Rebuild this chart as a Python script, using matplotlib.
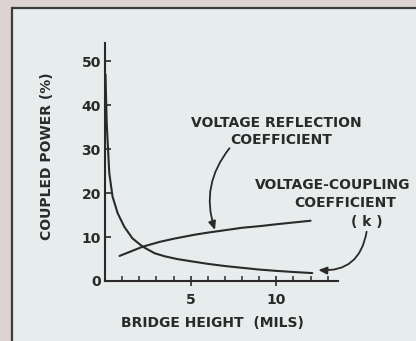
import matplotlib
matplotlib.use("Agg")
import matplotlib.pyplot as plt
from matplotlib.patches import Rectangle

# coupling coefficient (k) vs bridge height
k_height = [0.03, 0.06, 0.1, 0.15, 0.25, 0.44, 0.74, 1.13, 1.6, 2.2, 2.9,
            3.5, 4.2, 5.0, 6.0, 7.0, 8.0, 9.0, 10.0, 11.0, 12.1]
k_power = [47, 42, 36, 32, 24.5, 19.2, 15.4, 12.3, 9.7, 7.8, 6.3,
           5.6, 5.0, 4.5, 3.9, 3.4, 3.0, 2.6, 2.3, 2.05, 1.8]

# voltage reflection coefficient vs bridge height
r_height = [0.85, 2.2, 3.2, 4.0, 5.2, 6.0, 7.1, 8.0, 9.1, 10.0, 11.0, 12.0]
r_power = [5.7, 7.8, 8.9, 9.6, 10.5, 11.0, 11.6, 12.1, 12.5, 12.9, 13.3, 13.7]

y_ticks = [0, 10, 20, 30, 40, 50]
x_major = [5, 10]
x_minor = [1, 2, 3, 4, 6, 7, 8, 9, 11, 12, 13]

ink = '#2a2a2a'
W, H = 416, 341

fig = plt.figure(figsize=(W / 100, H / 100), dpi=100, facecolor='#dcd3d2')

# light panel with a dark frame running off the right and bottom
fig.patches.append(Rectangle((12 / W, -0.05), 1.1, 1 - 7.5 / H + 0.05,
                             transform=fig.transFigure, facecolor='#e7eded',
                             edgecolor='#3c3c3c', linewidth=1.6, zorder=-5))

ax = fig.add_axes([105 / W, 60 / H, 233 / W, 238 / H])
ax.set_facecolor('none')
ax.set_xlim(0, 13.6)
ax.set_ylim(0, 54.1)

for side in ['top', 'right']:
    ax.spines[side].set_visible(False)
for side in ['left', 'bottom']:
    ax.spines[side].set_linewidth(1.5)
    ax.spines[side].set_color(ink)

ax.plot(k_height, k_power, color=ink, lw=1.5, solid_capstyle='round')
ax.plot(r_height, r_power, color=ink, lw=1.5, solid_capstyle='round')

font = dict(family='DejaVu Sans', color=ink, fontweight='bold')

ax.set_yticks(y_ticks)
ax.set_yticklabels([str(v) for v in y_ticks], fontsize=10, **font)
ax.tick_params(axis='y', direction='in', length=4, width=1.2, pad=3, color=ink)

ax.set_xticks(x_major)
ax.set_xticklabels([str(v) for v in x_major], fontsize=10, **font)
ax.set_xticks(x_minor, minor=True)
ax.tick_params(axis='x', which='major', direction='inout', length=7, width=1.2,
               pad=5, color=ink)
ax.tick_params(axis='x', which='minor', direction='in', length=3.5, width=1.1,
               color=ink)

fig.text(47 / W, 1 - 156 / H, 'COUPLED POWER (%)', rotation=90, ha='center',
         va='center', fontsize=10, **font)
fig.text(212 / W, 1 - 323 / H, 'BRIDGE HEIGHT  (MILS)', ha='center',
         va='center', fontsize=10, **font)

# callouts
ax.text(10.02, 35.98, 'VOLTAGE REFLECTION', ha='center', va='center',
        fontsize=10, **font)
ax.text(10.31, 32.05, 'COEFFICIENT', ha='center', va='center',
        fontsize=10, **font)
ax.text(13.31, 21.8, 'VOLTAGE-COUPLING', ha='center', va='center',
        fontsize=10, clip_on=False, **font)
ax.text(14.01, 17.7, 'COEFFICIENT', ha='center', va='center',
        fontsize=10, clip_on=False, **font)
ax.text(15.3, 13.4, '( k )', ha='center', va='center',
        fontsize=10, clip_on=False, **font)

arrow = dict(arrowstyle='-|>,head_length=0.5,head_width=0.22', color=ink,
             lw=1.3, shrinkA=0, shrinkB=0)
ax.annotate('', xy=(6.42, 11.6), xytext=(7.27, 30.2),
            arrowprops=dict(connectionstyle='arc3,rad=0.27', **arrow),
            annotation_clip=False)
ax.annotate('', xy=(12.45, 2.5), xytext=(15.27, 11.2),
            arrowprops=dict(connectionstyle='arc3,rad=-0.45', **arrow),
            annotation_clip=False)

fig.savefig('out.png', dpi=100, facecolor=fig.get_facecolor())
